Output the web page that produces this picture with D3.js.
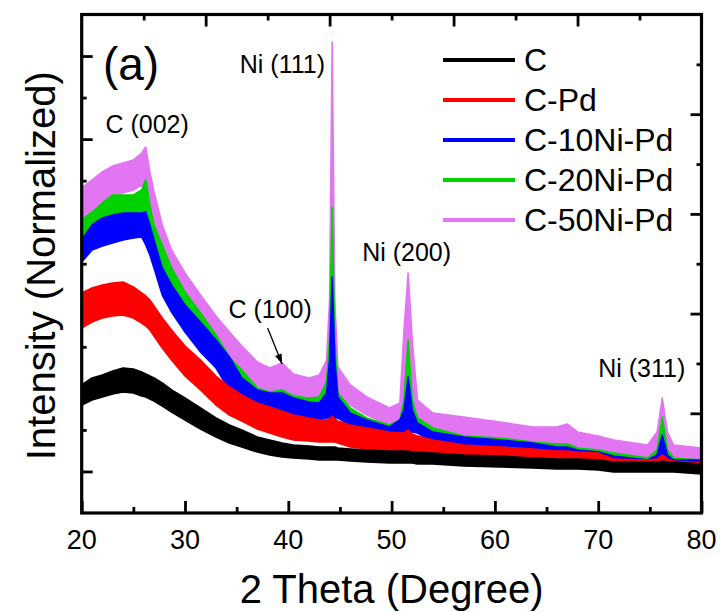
<!DOCTYPE html>
<html><head><meta charset="utf-8">
<script src="https://cdn.jsdelivr.net/npm/d3@7/dist/d3.min.js"></script>
<style>
body{margin:0;background:#fff}
svg{display:block}
text{font-family:"Liberation Sans",Arial,Helvetica,sans-serif;fill:#000}
</style>
</head><body>
<svg id="chart" width="720" height="612"></svg>
<script>
// ---- data ----
const angles = [20,21,22,23,24,25,25.8,26.2,26.6,27,27.8,28.7,30,31.5,33,34.3,35.5,37,38.2,39.4,40.5,42,43,43.7,44.0,44.25,44.5,44.8,46,47.6,49.8,50.8,51.2,51.6,52.0,52.5,54,57,60.5,63.7,66,67,68,70,71.5,74.8,75.7,76.2,76.7,77.3,80];

const seriesNames = ["C","C-Pd","C-10Ni-Pd","C-20Ni-Pd","C-50Ni-Pd"];

// upper / lower edge of each noisy trace (normalized intensity, a.u.)
const hiC   = [128,135,138,142,145,144,141,139,137,135,130,123,115,105,95,88,83,76,73,70,68,67,66,66,66,66,66,65,64,63,62,62,62,62,61,61,60,58,57,55,54,54,54,53,51,51,51,52,51,51,49];
const loC   = [108,113,116,119,121,120,117,116,114,112,107,101,93,84,76,70,66,61,58,56,55,54,53,53,53,53,53,53,52,51,50,50,50,50,50,49,49,47,46,45,44,44,44,43,41,41,41,41,41,41,39];

const hiPd  = [220,225,228,230,231,226,220,217,213,207,195,183,167,153,137,126,118,110,106,102,98,95,93,93,94,97,94,92,88,85,81,80,80,83,79,77,73,68,66,64,62,62,61,60,54,53,54,58,54,52,50];
const loPd  = [185,191,195,197,198,195,190,187,183,177,165,153,137,123,108,98,92,84,80,76,73,72,71,71,71,71,71,70,66,64,61,60,60,60,59,58,57,55,53,52,51,51,51,50,46,45,45,46,45,44,43];

const hi10  = [273,288,295,298,300,300,300,301,288,273,245,228,208,191,173,156,135,123,120,120,115,111,110,120,153,236,153,116,100,93,86,93,103,136,103,90,81,76,73,70,66,66,63,61,57,53,58,78,58,53,53];
const lo10  = [251,263,267,270,273,275,276,268,258,245,218,201,181,161,145,123,116,106,103,103,97,93,93,95,95,95,95,95,88,80,76,81,81,81,81,80,71,66,63,61,58,58,55,53,50,46,46,46,46,46,45];

const hi20  = [293,301,310,318,318,318,323,333,308,288,268,245,221,200,178,156,143,125,121,123,117,115,116,131,173,306,173,120,105,95,88,93,113,173,113,95,85,77,75,71,69,69,65,63,60,55,63,96,63,55,53];
const lo20  = [256,268,272,275,278,280,281,273,263,250,223,206,186,166,150,128,121,111,108,108,102,98,98,100,100,100,100,100,93,85,81,86,86,86,86,85,76,71,68,66,63,63,60,58,55,51,51,51,51,51,50];

const hi50  = [325,333,341,347,350,353,360,366,341,321,288,263,240,218,197,181,167,151,145,150,139,135,138,153,213,471,213,146,128,116,105,110,183,240,173,113,100,96,91,86,86,89,81,77,73,68,81,115,81,68,65];
const lo50  = [295,303,311,317,320,323,328,323,313,293,263,238,215,193,172,156,142,127,121,123,115,111,113,118,118,118,118,118,108,98,88,90,90,90,90,93,82,78,73,68,68,69,63,59,55,50,50,50,50,50,47];

const seriesColors = ["#000000","#ff0000","#0000ff","#00d200","#e276f2"];

const xTickValues = [20,30,40,50,60,70,80];
const xMinorValues = [25,35,45,55,65,75];

const peakLabels = ["C (002)","C (100)","Ni (111)","Ni (200)","Ni (311)"];
const peakLabelAngle = [22.3, 34.2, 43.55, 47.15, 70.0];
const peakLabelValue = [380, 195, 440, 252, 136];
const panelLabel = "(a)";

// ---- layout ----
const W = 720, H = 612;
const L = 81.7, R = 701.5, T = 14.5, B = 513;
const svg = d3.select("#chart");

const x = d3.scaleLinear().domain([20, 80]).range([L, R]);
const y = d3.scaleLinear().domain([0, B - T]).range([B, T]);

const series = seriesNames.map((n, i) => ({
  name: n, color: seriesColors[i],
  hi: [hiC, hiPd, hi10, hi20, hi50][i],
  lo: [loC, loPd, lo10, lo20, lo50][i]
}));

// ticks (drawn below the data, inward)
const tickG = svg.append("g").attr("stroke", "#000").attr("stroke-width", 2.6);
function tickAxis(axisFn, scale, vals, size, transform) {
  const g = svg.append("g").attr("transform", transform)
    .call(axisFn(scale).tickValues(vals).tickSize(-size).tickSizeOuter(0).tickFormat(""));
  g.select(".domain").remove();
  g.selectAll(".tick line").attr("stroke", "#000").attr("stroke-width", 2.8);
  return g;
}
// bottom
tickAxis(d3.axisBottom, x, xTickValues, 12, `translate(0,${B})`);
tickAxis(d3.axisBottom, x, xMinorValues, 6, `translate(0,${B})`);
// top (10 divisions)
const xTop = d3.scaleLinear().domain([0, 10]).range([L, R]);
tickAxis(d3.axisTop, xTop, [2,4,6,8], 12, `translate(0,${T})`);
tickAxis(d3.axisTop, xTop, [1,3,5,7,9], 6, `translate(0,${T})`);
// left (12 divisions)
const yLeft = d3.scaleLinear().domain([0, 12]).range([B, T]);
tickAxis(d3.axisLeft, yLeft, [1,3,5,7,9,11], 11, `translate(${L},0)`);
tickAxis(d3.axisLeft, yLeft, [2,4,6,8,10], 5, `translate(${L},0)`);
// right (10 divisions)
const yRight = d3.scaleLinear().domain([0, 10]).range([B, T]);
tickAxis(d3.axisRight, yRight, [2,4,6,8], 11, `translate(${R},0)`);
tickAxis(d3.axisRight, yRight, [1,3,5,7,9], 5, `translate(${R},0)`);

// data
svg.append("defs").append("clipPath").attr("id", "clip")
  .append("rect").attr("x", L).attr("y", T).attr("width", R - L).attr("height", B - T);

const area = d3.area()
  .x((d, i) => x(angles[i]))
  .y0(d => y(d[0]))
  .y1(d => y(d[1]));

const dataG = svg.append("g").attr("clip-path", "url(#clip)");
series.slice().reverse().forEach(s => {
  const pts = angles.map((a, i) => [s.lo[i], s.hi[i]]);
  dataG.append("path")
    .attr("d", area(pts))
    .attr("fill", s.color)
    .attr("stroke", s.color)
    .attr("stroke-width", 1.6)
    .attr("stroke-linejoin", "round");
});

// frame
svg.append("rect").attr("x", L).attr("y", T).attr("width", R - L).attr("height", B - T)
  .attr("fill", "none").attr("stroke", "#000").attr("stroke-width", 3.2);

// x tick labels
svg.append("g").selectAll("text").data(xTickValues).join("text")
  .attr("x", d => x(d)).attr("y", 549)
  .attr("text-anchor", "middle").attr("font-size", 27)
  .text(d => d);

// axis titles
svg.append("text").attr("x", (L + R) / 2).attr("y", 603)
  .attr("text-anchor", "middle").attr("font-size", 40)
  .text("2 Theta (Degree)");
svg.append("text").attr("transform", `translate(55,${(T + B) / 2 + 2}) rotate(-90)`)
  .attr("text-anchor", "middle").attr("font-size", 40)
  .text("Intensity (Normalized)");

// panel label
svg.append("text").attr("x", x(22.06)).attr("y", y(433)).attr("font-size", 46).text(panelLabel);

// peak labels
peakLabels.forEach((t, i) => {
  svg.append("text")
    .attr("x", x(peakLabelAngle[i])).attr("y", y(peakLabelValue[i]))
    .attr("text-anchor", t === "Ni (111)" ? "end" : "start")
    .attr("font-size", 25).text(t);
});

// arrow to C (100)
const ax0 = x(38.0), ay0 = y(185), ax1 = x(39.4), ay1 = y(149);
svg.append("line").attr("x1", ax0).attr("y1", ay0).attr("x2", ax1).attr("y2", ay1)
  .attr("stroke", "#000").attr("stroke-width", 1.3);
const ang = Math.atan2(ay1 - ay0, ax1 - ax0);
const hl = 10, hw = 3.5;
const bx = ax1 - hl * Math.cos(ang), by = ay1 - hl * Math.sin(ang);
svg.append("path")
  .attr("d", `M${ax1},${ay1}L${bx + hw * Math.sin(ang)},${by - hw * Math.cos(ang)}L${bx - hw * Math.sin(ang)},${by + hw * Math.cos(ang)}Z`)
  .attr("fill", "#000");

// legend
const lg = svg.append("g");
series.forEach((s, i) => {
  const yy = 60 + i * 40;
  lg.append("line").attr("x1", 443).attr("x2", 515).attr("y1", yy).attr("y2", yy)
    .attr("stroke", s.color).attr("stroke-width", 4);
  lg.append("text").attr("x", 524).attr("y", yy + 11).attr("font-size", 32).text(s.name);
});
</script>
</body></html>
